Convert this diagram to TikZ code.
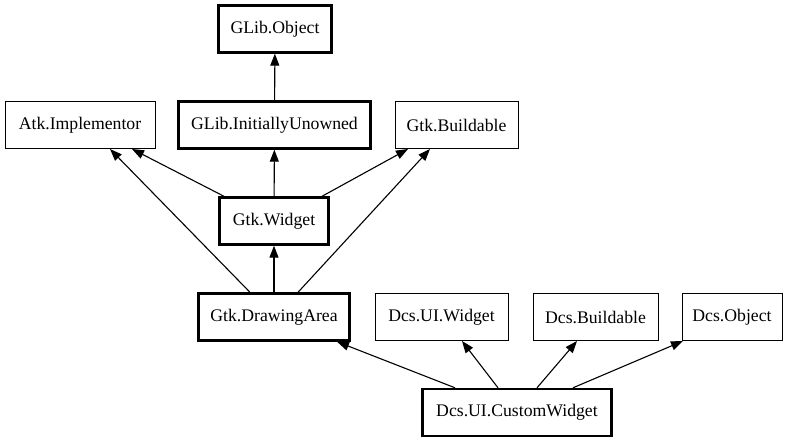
\documentclass[tikz,border=0pt]{standalone}
\usepackage{fontspec}
\setmainfont{Liberation Serif}
\usetikzlibrary{arrows.meta}
\begin{document}
\begin{tikzpicture}[x=1pt,y=-1pt,
  cls/.style={draw=black,line width=1pt,fill=white,rectangle,inner sep=0pt,minimum height=47pt,font=\fontsize{17.7}{20}\selectfont},
  thick cls/.style={cls,line width=2.4pt},
  inh/.style={line width=1.1pt,-{Triangle[length=12pt,width=9pt]}}]
\useasboundingbox (0,0) rectangle (790,443);
\node[thick cls,minimum width=113pt] (go) at (275,29) {GLib.Object};
\node[cls,minimum width=150pt] (atk) at (80,125) {Atk.Implementor};
\node[thick cls,minimum width=192pt] (iu) at (274.5,125) {GLib.InitiallyUnowned};
\node[cls,minimum width=123pt] (gb) at (456.5,125) {Gtk.Buildable};
\node[thick cls,minimum width=109pt] (gw) at (274,221) {Gtk.Widget};
\node[thick cls,minimum width=151pt] (da) at (274,317) {Gtk.DrawingArea};
\node[cls,minimum width=133pt] (uiw) at (441.5,317) {Dcs.UI.Widget};
\node[cls,minimum width=125pt] (db) at (595.5,317) {Dcs.Buildable};
\node[cls,minimum width=100pt] (dob) at (732,317) {Dcs.Object};
\node[thick cls,minimum width=189pt] (cw) at (517,412.5) {Dcs.UI.CustomWidget};
\draw[inh] (iu) -- (go);
\draw[inh] ([xshift=-50pt]gw.north) -- ([xshift=52pt]atk.south);
\draw[inh] (gw) -- (iu);
\draw[inh] ([xshift=48pt]gw.north) -- ([xshift=-48.5pt]gb.south);
\draw[inh] ([xshift=-24pt]da.north) -- ([xshift=30pt]atk.south);
\draw[inh] (da) -- (gw);
\draw[inh] ([xshift=24pt]da.north) -- ([xshift=-26.5pt]gb.south);
\draw[inh] ([xshift=-62pt]cw.north) -- ([xshift=63pt]da.south);
\draw[inh] ([xshift=-19pt]cw.north) -- ([xshift=20.5pt]uiw.south);
\draw[inh] ([xshift=20pt]cw.north) -- ([xshift=-18.5pt]db.south);
\draw[inh] ([xshift=56pt]cw.north) -- ([xshift=-49pt]dob.south);
\end{tikzpicture}
\end{document}
